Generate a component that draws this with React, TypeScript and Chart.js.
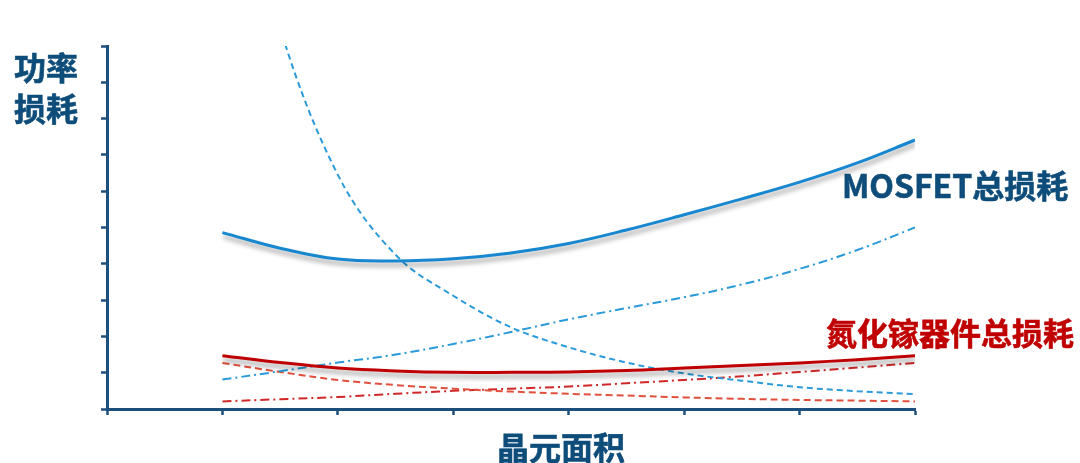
import React, { useEffect, useRef } from "react";
import { Chart, registerables } from "chart.js";

Chart.register(...registerables);

// x positions (晶元面积, arbitrary units)
const xValues = [1, 1.5, 2, 2.5, 3, 3.5, 4, 4.5, 5, 5.5, 6, 6.5, 7];

// MOSFET curves
const mosfetTotal = [4.86, 4.43, 4.13, 4.08, 4.14, 4.3, 4.56, 4.93, 5.35, 5.79, 6.25, 6.78, 7.41];
const mosfetConduction = [17, 10.5, 6.45, 4.25, 3.12, 2.25, 1.7, 1.28, 0.98, 0.78, 0.6, 0.49, 0.41];
const mosfetSwitching = [0.81, 1.04, 1.28, 1.5, 1.79, 2.12, 2.47, 2.78, 3.08, 3.43, 3.86, 4.38, 5.0];

// GaN curves
const ganTotal = [1.47, 1.28, 1.13, 1.05, 1.01, 1.01, 1.02, 1.06, 1.13, 1.2, 1.27, 1.36, 1.47];
const ganConduction = [1.27, 1.02, 0.8, 0.66, 0.56, 0.48, 0.42, 0.37, 0.32, 0.28, 0.25, 0.23, 0.21];
const ganSwitching = [0.21, 0.27, 0.33, 0.42, 0.5, 0.56, 0.62, 0.71, 0.8, 0.9, 1.02, 1.14, 1.27];

const yTitle = ["功率", "损耗"];
const xTitle = "晶元面积";
const mosfetLabel = "MOSFET总损耗";
const ganLabel = "氮化镓器件总损耗";

const AXIS = "#1c4f7c";
const TEXT_BLUE = "#0e4d7a";
const BLUE = "#1787d0";
const BLUE_LIGHT = "#2a9ad8";
const RED = "#c00000";
const RED_DASH = "#e0503c";
const RED_DOT = "#d02828";

const toPts = (ys: number[]) => ys.map((y, i) => ({ x: xValues[i], y }));

const FONT = '"Noto Sans CJK SC", "Noto Sans", sans-serif';

export default function App() {
  const ref = useRef<HTMLCanvasElement>(null);

  useEffect(() => {
    document.body.style.margin = "0";
    const shadowPlugin = {
      id: "lineShadow",
      beforeDatasetDraw(chart: any, args: any) {
        const ds = chart.data.datasets[args.index];
        if (ds.shadow) {
          const ctx = chart.ctx;
          ctx.save();
          ctx.shadowColor = "rgba(0,0,0,0.4)";
          ctx.shadowBlur = 5;
          ctx.shadowOffsetX = 1;
          ctx.shadowOffsetY = 4;
        }
      },
      afterDatasetDraw(chart: any, args: any) {
        const ds = chart.data.datasets[args.index];
        if (ds.shadow) chart.ctx.restore();
      },
    };

    const smooth = { pointRadius: 0, pointHoverRadius: 0, tension: 0.4, fill: false };
    const mono = { pointRadius: 0, pointHoverRadius: 0, cubicInterpolationMode: "monotone" as const, fill: false };

    const chart = new Chart(ref.current!, {
      type: "line",
      data: {
        datasets: [
          { ...smooth, label: "MOSFET总损耗", data: toPts(mosfetTotal), borderColor: BLUE, borderWidth: 3, shadow: true } as any,
          { ...smooth, label: "氮化镓器件总损耗", data: toPts(ganTotal), borderColor: RED, borderWidth: 3, shadow: true } as any,
          { ...mono, label: "MOSFET导通损耗", data: toPts(mosfetConduction), borderColor: BLUE_LIGHT, borderWidth: 2, borderDash: [6, 4] },
          { ...smooth, label: "MOSFET开关损耗", data: toPts(mosfetSwitching), borderColor: BLUE_LIGHT, borderWidth: 2, borderDash: [9, 4, 2, 4] },
          { ...smooth, label: "氮化镓导通损耗", data: toPts(ganConduction), borderColor: RED_DASH, borderWidth: 2, borderDash: [7, 4] },
          { ...smooth, label: "氮化镓开关损耗", data: toPts(ganSwitching), borderColor: RED_DOT, borderWidth: 2, borderDash: [9, 4, 2, 4] },
        ],
      },
      options: {
        animation: false,
        responsive: false,
        devicePixelRatio: 1,
        layout: { padding: { left: 100, right: 165, top: 46, bottom: 47 } },
        plugins: { legend: { display: false }, tooltip: { enabled: false } },
        scales: {
          x: {
            type: "linear",
            min: 0,
            max: 7,
            ticks: { display: false, stepSize: 1 },
            grid: { drawOnChartArea: false, drawTicks: true, tickLength: 6, color: AXIS, tickWidth: 2.5 },
            border: { color: AXIS, width: 3 },
            afterFit: (s: any) => { s.height = 7; },
          },
          y: {
            type: "linear",
            min: 0,
            max: 10,
            ticks: { display: false, stepSize: 1 },
            grid: { drawOnChartArea: false, drawTicks: true, tickLength: 6, color: AXIS, tickWidth: 2.5 },
            border: { color: AXIS, width: 3 },
            afterFit: (s: any) => { s.width = 7; },
          },
        },
      },
      plugins: [shadowPlugin],
    });
    return () => chart.destroy();
  }, []);

  const textStyle = (color: string, size: number) => ({
    fontFamily: FONT,
    fontWeight: 700,
    fontSize: size,
    color,
    whiteSpace: "nowrap" as const,
    WebkitTextStroke: `0.6px ${color}`,
  });

  const label = (text: string, left: number, centerY: number, color: string, size = 32) => (
    <div
      style={{
        position: "absolute",
        left,
        top: centerY - 20,
        height: 40,
        lineHeight: "40px",
        ...textStyle(color, size),
      }}
    >
      {text}
    </div>
  );

  return (
    <div style={{ position: "absolute", left: 0, top: 0, width: 1080, height: 463, background: "#fff", overflow: "hidden" }}>
      <canvas ref={ref} width={1080} height={463} style={{ position: "absolute", left: 0, top: 0 }} />
      <div
        style={{
          position: "absolute",
          left: 14,
          top: 46,
          lineHeight: "41px",
          ...textStyle(TEXT_BLUE, 32),
        }}
      >
        {yTitle.map((t) => (
          <div key={t}>{t}</div>
        ))}
      </div>
      {label(xTitle, 497, 446, TEXT_BLUE)}
      {label(mosfetLabel, 842, 184, TEXT_BLUE)}
      {label(ganLabel, 826, 332, RED, 31)}
    </div>
  );
}
